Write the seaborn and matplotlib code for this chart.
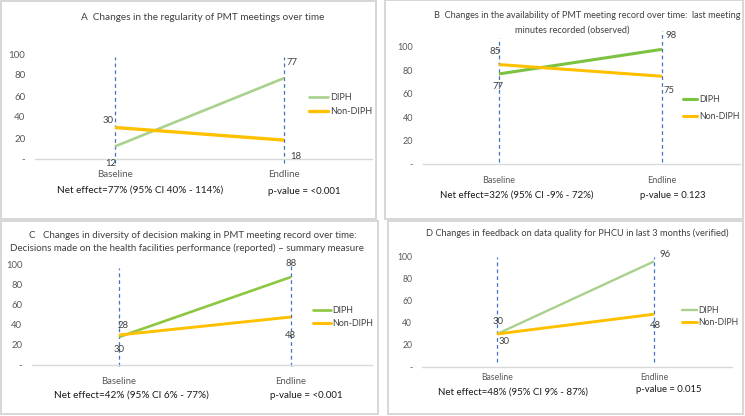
import pandas as pd
import matplotlib.pyplot as plt
import seaborn as sns
from matplotlib.patches import Rectangle
from matplotlib.lines import Line2D

# data
periods = ["Baseline", "Endline"]
groups = ["DIPH", "Non-DIPH"]

a_diph = [12, 77]
a_non = [30, 18]
b_diph = [77, 98]
b_non = [85, 75]
c_diph = [28, 88]
c_non = [30, 48]
d_diph = [30, 96]
d_non = [30, 48]

y_ticks = [0, 20, 40, 60, 80, 100]
y_tick_labels = ["-", "20", "40", "60", "80", "100"]

a_title = ["A  Changes in the regularity of PMT meetings over time"]
b_title = ["B  Changes in the availability of PMT meeting record over time:  last meeting",
           "minutes recorded (observed)"]
c_title = ["C   Changes in diversity of decision making in PMT meeting record over time:",
           "Decisions made on the health facilities performance (reported) \u2013 summary measure"]
d_title = ["D Changes in feedback on data quality for PHCU in last 3 months (verified)"]

net_effects = ["Net effect=77% (95% CI 40% - 114%)",
               "Net effect=32% (95% CI -9% - 72%)",
               "Net effect=42% (95% CI 6% - 77%)",
               "Net effect=48% (95% CI 9% - 87%)"]
p_values = ["p-value = <0.001", "p-value = 0.123", "p-value = <0.001", "p-value = 0.015"]

W, H = 745, 416
GOLD = "#FFC000"
BLUE = "#4472C4"

sns.set_style("white")
plt.rcParams['font.family'] = ['Lato', 'DejaVu Sans']

fig = plt.figure(figsize=(W / 100, H / 100), dpi=100)


def fx(x):
    return x / W


def fy(y):
    return 1 - y / H


# panel frames
for x0, y0, x1, y1 in [(1, 1, 376, 219), (385, 0, 743, 219), (1, 221, 378, 414), (388, 221, 743, 414)]:
    fig.add_artist(Rectangle((fx(x0), fy(y1)), fx(x1 - x0), (y1 - y0) / H, transform=fig.transFigure,
                             fill=False, edgecolor="#D6D6D6", linewidth=1.4))

# layout of each panel in pixels (plot box, category positions, label offsets, legend...)
panels = [
    dict(diph=a_diph, non=a_non, title=a_title, title_x=[203], title_y=[17], title_fs=7.2, green="#A9D18E",
         lw=(1.9, 2.4), ax_x=(35, 372), ax_y=(54, 159), cat=(115, 284),
         vl=[(-4, 97), (-4, 97)], tick_fs=7, xpad=8,
         off_diph=[(-4, -17, "center"), (2, 16, "left")], off_non=[(-7, 7, "center"), (6, -16, "left")],
         leg=(309, 93, 0.6, 6.5, 2.1), net=(140, 190), pv=(304, 192), foot_fs=7.2),
    dict(diph=b_diph, non=b_non, title=b_title, title_x=[587, 572], title_y=[16, 30], title_fs=6.6,
         green="#7CC242", lw=(2.2, 2.2), ax_x=(423, 740), ax_y=(47, 164), cat=(499, 662),
         vl=[(2, 108), (2, 114)], tick_fs=6.5, xpad=9,
         off_diph=[(-1, -13, "center"), (3, 14, "left")], off_non=[(-4, 13, "center"), (1, -14, "left")],
         leg=(683, 95, 0.95, 6.3, 1.6), net=(517, 195), pv=(673, 196), foot_fs=7),
    dict(diph=c_diph, non=c_non, title=c_title, title_x=[193, 187], title_y=[235, 248], title_fs=7,
         green="#8DC63F", lw=(1.9, 2.1), ax_x=(32, 372), ax_y=(265, 365), cat=(119, 291),
         vl=[(-1, 97), (-1, 103)], tick_fs=6.8, xpad=9,
         off_diph=[(4, 11, "center"), (0, 13, "center")], off_non=[(0, -15, "center"), (-1, -19, "center")],
         leg=(313, 306, 0.45, 6.4, 2.0), net=(131, 395), pv=(306, 395), foot_fs=7.2),
    dict(diph=d_diph, non=d_non, title=d_title, title_x=[577], title_y=[233], title_fs=6.7,
         green="#A9D18E", lw=(1.7, 2.1), ax_x=(422, 732), ax_y=(257, 367), cat=(497, 654),
         vl=[(5, 100), (5, 100)], tick_fs=6.2, xpad=4,
         off_diph=[(1, 12, "center"), (6, 7, "left")], off_non=[(7, -8, "center"), (1, -11, "center")],
         leg=(682, 306, 0.35, 6.2, 1.7), net=(513, 392), pv=(669, 389), foot_fs=7),
]

for i, p in enumerate(panels):
    x0, x1 = p["ax_x"]
    yt, yb = p["ax_y"]
    ax = fig.add_axes([fx(x0), fy(yb), fx(x1 - x0), (yb - yt) / H])

    df = pd.DataFrame({
        "period": periods * 2,
        "value": p["diph"] + p["non"],
        "group": [groups[0]] * 2 + [groups[1]] * 2,
    })
    palette = {groups[0]: p["green"], groups[1]: GOLD}
    sns.lineplot(data=df, x="period", y="value", hue="group", hue_order=groups,
                 palette=palette, ax=ax, legend=False, zorder=3, clip_on=False)
    for line, lw in zip(ax.lines, p["lw"]):
        line.set_linewidth(lw)
        line.set_solid_capstyle("butt")

    base, end = p["cat"]
    span = end - base
    ax.set_xlim(-(base - x0) / span, 1 + (x1 - end) / span)
    ax.set_ylim(0, 100)

    # dashed markers at baseline / endline
    for k, (lo, hi) in enumerate(p["vl"]):
        ax.plot([k, k], [lo, hi], color=BLUE, lw=0.9, ls=(0, (3, 2.5)), clip_on=False, zorder=2)

    # value labels
    for vals, offs in [(p["diph"], p["off_diph"]), (p["non"], p["off_non"])]:
        for k, (v, (dx, dy, ha)) in enumerate(zip(vals, offs)):
            arrow = None
            if i == 1 and vals is p["non"] and k == 0:
                arrow = dict(arrowstyle="-", color="#A0A0A0", lw=0.6, shrinkA=3, shrinkB=1)
            ax.annotate(str(v), xy=(k, v), xytext=(dx * 0.72, dy * 0.72), textcoords="offset points",
                        ha=ha, va="center", fontsize=6.8, color="#404040", annotation_clip=False,
                        arrowprops=arrow)

    ax.set_yticks(y_ticks)
    ax.set_yticklabels(y_tick_labels)
    ax.set_xlabel("")
    ax.set_ylabel("")
    ax.tick_params(axis="both", length=0, labelsize=p["tick_fs"], labelcolor="#595959")
    ax.tick_params(axis="y", pad=7)
    ax.tick_params(axis="x", pad=p["xpad"])
    for s in ["top", "left", "right"]:
        ax.spines[s].set_visible(False)
    ax.spines["bottom"].set_color("#D9D9D9")
    ax.spines["bottom"].set_linewidth(1.0)
    ax.patch.set_alpha(0)

    # legend
    lx, ly, spacing, lfs, hlen = p["leg"]
    handles = [Line2D([], [], color=p["green"], lw=p["lw"][0]), Line2D([], [], color=GOLD, lw=p["lw"][1])]
    ax.legend(handles, groups, loc="upper left", bbox_to_anchor=(fx(lx), fy(ly)),
              bbox_transform=fig.transFigure, frameon=False, fontsize=lfs, handlelength=hlen,
              handletextpad=0.2, borderpad=0, borderaxespad=0, labelspacing=spacing,
              labelcolor="#404040")

    # titles and footers
    for t, tx, ty in zip(p["title"], p["title_x"], p["title_y"]):
        fig.text(fx(tx), fy(ty), t, ha="center", va="center", fontsize=p["title_fs"], color="#404040")
    fig.text(fx(p["net"][0]), fy(p["net"][1]), net_effects[i], ha="center", va="center",
             fontsize=p["foot_fs"], color="#1A1A1A")
    fig.text(fx(p["pv"][0]), fy(p["pv"][1]), p_values[i], ha="center", va="center",
             fontsize=p["foot_fs"] - 0.2, color="#1A1A1A")

fig.savefig("out.png", dpi=100)
